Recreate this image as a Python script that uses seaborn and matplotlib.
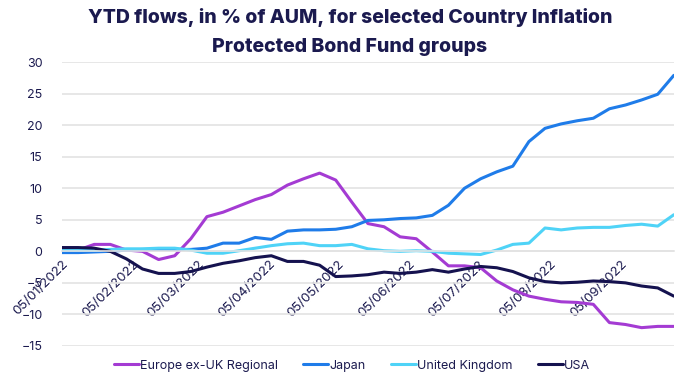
import matplotlib
matplotlib.use("Agg")
import matplotlib.pyplot as plt
import matplotlib.dates as mdates
import numpy as np
import pandas as pd
import seaborn as sns

# weekly data points, starting 05/01/2022
start_date = "2022-01-05"
n_weeks = 39

europe = [0.0, 0.2, 1.1, 1.1, 0.2, 0.0, -1.3, -0.7, 2.0, 5.5,
          6.2, 7.2, 8.2, 9.0, 10.5, 11.5, 12.4, 11.3, 7.8, 4.4,
          3.9, 2.3, 2.0, -0.1, -2.3, -2.3, -2.6, -4.7, -6.1, -7.1,
          -7.6, -8.0, -8.1, -8.4, -11.3, -11.6, -12.1, -11.9, -11.9]
japan = [-0.2, -0.2, -0.1, 0.0, 0.2, 0.3, 0.3, 0.3, 0.3, 0.5,
         1.3, 1.3, 2.2, 1.9, 3.2, 3.4, 3.4, 3.5, 3.9, 4.9,
         5.0, 5.2, 5.3, 5.7, 7.3, 10.0, 11.5, 12.6, 13.5, 17.4,
         19.5, 20.2, 20.7, 21.1, 22.6, 23.2, 24.0, 24.9, 27.9]
uk = [0.2, 0.2, 0.2, 0.3, 0.4, 0.4, 0.5, 0.5, 0.2, -0.3,
      -0.3, 0.1, 0.5, 0.9, 1.2, 1.3, 0.9, 0.9, 1.1, 0.4,
      0.1, 0.0, 0.1, 0.0, -0.3, -0.4, -0.5, 0.2, 1.1, 1.3,
      3.7, 3.4, 3.7, 3.8, 3.8, 4.1, 4.3, 4.0, 5.8]
usa = [0.6, 0.6, 0.5, 0.0, -1.2, -2.8, -3.5, -3.5, -3.2, -2.5,
       -1.9, -1.5, -1.0, -0.7, -1.6, -1.6, -2.2, -4.0, -3.9, -3.7,
       -3.3, -3.5, -3.3, -2.9, -3.3, -2.8, -2.4, -2.6, -3.2, -4.2,
       -4.8, -5.0, -4.9, -4.7, -4.8, -5.0, -5.5, -5.8, -7.1]

series_names = ["Europe ex-UK Regional", "Japan", "United Kingdom", "USA"]
series_colors = ["#a43bd3", "#1f7ce9", "#4fd3f7", "#15124f"]
y_ticks = [-15, -10, -5, 0, 5, 10, 15, 20, 25, 30]

dates = pd.date_range(start_date, periods=n_weeks, freq="7D")
df = pd.DataFrame({"date": dates, "Europe ex-UK Regional": europe, "Japan": japan,
                   "United Kingdom": uk, "USA": usa})
long_df = df.melt(id_vars="date", var_name="group", value_name="flow")

sns.set_style("white")
plt.rcParams["font.family"] = ["Inter", "DejaVu Sans"]
text_color = "#1b1a4f"

fig = plt.figure(figsize=(7, 3.81), dpi=100)
ax = fig.add_axes([0.0886, 0.092, 0.874, 0.745])

sns.lineplot(data=long_df, x="date", y="flow", hue="group", hue_order=series_names,
             palette=series_colors, linewidth=2.2, ax=ax, legend=True)

ax.set_ylim(-15, 30)
ax.set_xlim(dates[0], dates[-1])
ax.set_yticks(y_ticks)
ax.yaxis.grid(True, color="#e3e3e3", linewidth=1.2)
ax.set_axisbelow(True)
for s in ["top", "right", "left"]:
    ax.spines[s].set_visible(False)
ax.spines["bottom"].set_position(("data", 0))
ax.spines["bottom"].set_color("#e3e3e3")
ax.spines["bottom"].set_linewidth(1.2)

ax.xaxis.set_major_locator(mdates.MonthLocator(bymonthday=5))
ax.xaxis.set_major_formatter(mdates.DateFormatter("%d/%m/%Y"))
ax.tick_params(axis="x", length=4, color="#d8d8d8", labelsize=9.5, labelcolor=text_color, pad=1)
ax.tick_params(axis="y", length=0, labelsize=9, labelcolor=text_color, pad=14)
for lbl in ax.get_xticklabels():
    lbl.set_rotation(45)
    lbl.set_ha("right")
    lbl.set_rotation_mode("anchor")
ax.set_xlabel("")
ax.set_ylabel("")

fig.suptitle("YTD flows, in % of AUM, for selected Country Inflation\nProtected Bond Fund groups",
             x=0.5, y=0.98, fontsize=14, fontweight="heavy", color=text_color, linespacing=1.8)

handles, labels = ax.get_legend_handles_labels()
ax.legend(handles, labels, loc="center", bbox_to_anchor=(0.503, 0.04), bbox_transform=fig.transFigure,
          ncol=4, frameon=False, fontsize=9, handlelength=2.0, handletextpad=0.1,
          columnspacing=2.0, labelcolor=text_color)

fig.savefig("out.png", dpi=100)
